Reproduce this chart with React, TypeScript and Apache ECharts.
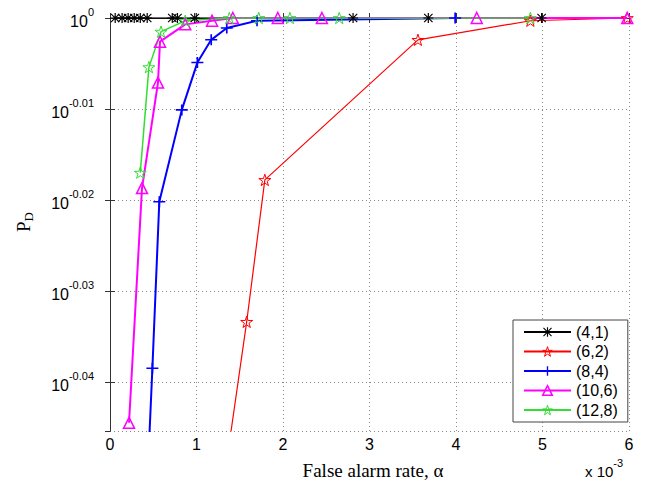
import React, { useEffect, useRef } from "react";
import * as echarts from "echarts";

// x in units of 1e-3 (false alarm rate), y = -log10(PD)
const seriesNames = ["(4,1)", "(6,2)", "(8,4)", "(10,6)", "(12,8)"];
const seriesColors = ["#000000", "#ff0000", "#0000ff", "#ff00ff", "#33dd33"];

const x41 = [0.06, 0.14, 0.21, 0.28, 0.35, 0.43, 0.72, 0.78, 0.98, 2.81, 3.68, 4.99];
const nlog41 = [0, 0, 0, 0, 0, 0, 0, 0, 0, 0, 0, 0];

const x62 = [1.18, 1.58, 1.79, 3.56, 4.86, 5.98];
const nlog62 = [0.06, 0.0334, 0.0178, 0.0024, 0.0003, 0];

const x84 = [0.39, 0.49, 0.57, 0.83, 1.01, 1.17, 1.35, 1.7, 3.99];
const nlog84 = [0.06, 0.0385, 0.0202, 0.0101, 0.0049, 0.0024, 0.0011, 0.0003, 0];

const x106 = [0.22, 0.37, 0.555, 0.578, 0.87, 1.18, 1.42, 1.94, 2.45, 4.24, 5.98];
const nlog106 = [0.0445, 0.0187, 0.0071, 0.0026, 0.0007, 0.0003, 0, 0, 0, 0, 0];

const x128 = [0.35, 0.45, 0.59, 0.87, 1.38, 1.72, 2.08, 2.65, 4.86];
const nlog128 = [0.017, 0.0054, 0.0015, 0.0003, 0, 0, 0, 0, 0];

const xTicks = [0, 1, 2, 3, 4, 5, 6];
const yMaxNeg = 0.0454;

const ASTERISK =
  "path://M4.4 0H5.6V10H4.4Z M0 4.4H10V5.6H0Z M1.2 0.4L9.6 8.8L8.8 9.6L0.4 1.2Z M8.8 0.4L9.6 1.2L1.2 9.6L0.4 8.8Z";
const PLUS = "path://M4.3 0H5.7V10H4.3Z M0 4.3H10V5.7H0Z";
const STAR =
  "path://M10 0 L12.245 6.91 L19.51 6.91 L13.633 11.18 L15.878 18.09 L10 13.82 L4.122 18.09 L6.367 11.18 L0.49 6.91 L7.755 6.91 Z";

const zip = (xs: number[], ys: number[]) => xs.map((x, i) => [x, ys[i]]);

export default function App() {
  const ref = useRef<HTMLDivElement>(null);
  useEffect(() => {
    if (!ref.current) return;
    const chart = echarts.init(ref.current, null, { renderer: "svg" });
    const sans = "Liberation Sans";
    const serif = "Liberation Serif";
    const styleFor = (color: string, filled: boolean, bw: number) =>
      filled
        ? { color, borderWidth: 0 }
        : { color: "none", borderColor: color, borderWidth: bw };
    const specs = [
      { symbol: ASTERISK, size: 10, filled: true, lw: 1.5, bw: 0 },
      { symbol: STAR, size: 12, filled: false, lw: 1.2, bw: 1 },
      { symbol: PLUS, size: [12, 11], filled: true, lw: 2, bw: 0 },
      { symbol: "triangle", size: 11, filled: false, lw: 2, bw: 1.5 },
      { symbol: STAR, size: 12, filled: false, lw: 1.5, bw: 1 },
    ];
    const datas = [
      zip(x41, nlog41),
      zip(x62, nlog62),
      zip(x84, nlog84),
      zip(x106, nlog106),
      zip(x128, nlog128),
    ];
    const series = seriesNames.map((name, i) => ({
      name,
      type: "line",
      data: datas[i],
      symbol: specs[i].symbol,
      symbolSize: specs[i].size,
      symbolKeepAspect: true,
      clip: true,
      lineStyle: { color: seriesColors[i], width: specs[i].lw },
      itemStyle: styleFor(seriesColors[i], specs[i].filled, specs[i].bw),
      emphasis: { disabled: true },
    }));
    const yLabelFmt = (v: number) => {
      if (Math.abs(v * 100 - Math.round(v * 100)) > 1e-6) return "";
      const e = Math.round(v * 100);
      return e === 0 ? "{b|10}{s|0}" : `{b|10}{s|-0.0${e}}`;
    };
    chart.setOption({
      animation: false,
      backgroundColor: "#fff",
      grid: { left: 110, right: 34, top: 18, bottom: 54 },
      xAxis: [
        {
          type: "value",
          min: 0,
          max: 6,
          interval: 1,
          axisLine: { lineStyle: { color: "#333" } },
          axisTick: { inside: true, length: 5, lineStyle: { color: "#333" } },
          axisLabel: {
            color: "#000",
            fontFamily: sans,
            fontSize: 16,
            margin: 5,
            formatter: (v: number) => (xTicks.includes(v) ? String(v) : ""),
          },
          splitLine: { show: true, lineStyle: { color: "#888", type: [1, 3] } },
        },
        {
          type: "value",
          position: "top",
          min: 0,
          max: 6,
          interval: 1,
          axisLine: { show: true, lineStyle: { color: "#333" } },
          axisTick: { inside: true, length: 5, lineStyle: { color: "#333" } },
          axisLabel: { show: false },
          splitLine: { show: false },
        },
      ],
      yAxis: [
        {
          type: "value",
          inverse: true,
          min: 0,
          max: yMaxNeg,
          interval: 0.01,
          axisLine: { show: true, lineStyle: { color: "#333" } },
          axisTick: { inside: true, length: 5, lineStyle: { color: "#333" } },
          axisLabel: {
            margin: 16,
            showMaxLabel: false,
            formatter: yLabelFmt,
            rich: {
              b: { fontFamily: sans, fontSize: 16, color: "#000", padding: [7, 0, 0, 0], verticalAlign: "bottom" },
              s: { fontFamily: sans, fontSize: 11, color: "#000", verticalAlign: "top" },
            },
          },
          splitLine: { show: true, lineStyle: { color: "#888", type: [1, 3] } },
        },
        {
          type: "value",
          position: "right",
          inverse: true,
          min: 0,
          max: yMaxNeg,
          interval: 0.01,
          axisLine: { show: true, lineStyle: { color: "#333" } },
          axisTick: { inside: true, length: 5, lineStyle: { color: "#333" } },
          axisLabel: { show: false },
          splitLine: { show: false },
        },
      ],
      legend: {
        orient: "vertical",
        left: 513,
        top: 320,
        padding: [4, 10, 4, 10],
        itemWidth: 47,
        itemHeight: 12,
        itemGap: 3.5,
        backgroundColor: "#fff",
        borderColor: "#444",
        borderWidth: 1,
        borderRadius: 0,
        textStyle: { fontFamily: sans, fontSize: 16, color: "#000" },
        data: seriesNames.map((name, i) => ({
          name,
          itemStyle: styleFor(seriesColors[i], specs[i].filled, specs[i].bw),
        })),
        selectedMode: false,
      },
      series,
      graphic: [
        {
          type: "text",
          x: 24,
          y: 222,
          rotation: Math.PI / 2,
          style: {
            text: "{p|P}{d|D}",
            align: "center",
            verticalAlign: "middle",
            rich: {
              p: { fontFamily: serif, fontSize: 19, color: "#000", verticalAlign: "top" },
              d: { fontFamily: serif, fontSize: 13, color: "#000", padding: [8, 0, 0, 0], verticalAlign: "bottom" },
            },
          },
        },
        {
          type: "text",
          x: 373,
          y: 470,
          style: {
            text: "False alarm rate, α",
            font: `19px "${serif}"`,
            fill: "#000",
            align: "center",
            verticalAlign: "middle",
          },
        },
        {
          type: "text",
          x: 585,
          y: 468,
          style: {
            text: "{b|x 10}{s|-3}",
            align: "left",
            verticalAlign: "middle",
            rich: {
              b: { fontFamily: sans, fontSize: 15, color: "#000", padding: [6, 0, 0, 0], verticalAlign: "bottom" },
              s: { fontFamily: sans, fontSize: 11, color: "#000", verticalAlign: "top" },
            },
          },
        },
      ],
    });
    return () => chart.dispose();
  }, []);
  return <div ref={ref} style={{ width: 663, height: 485, position: "absolute", left: 0, top: 0 }} />;
}
